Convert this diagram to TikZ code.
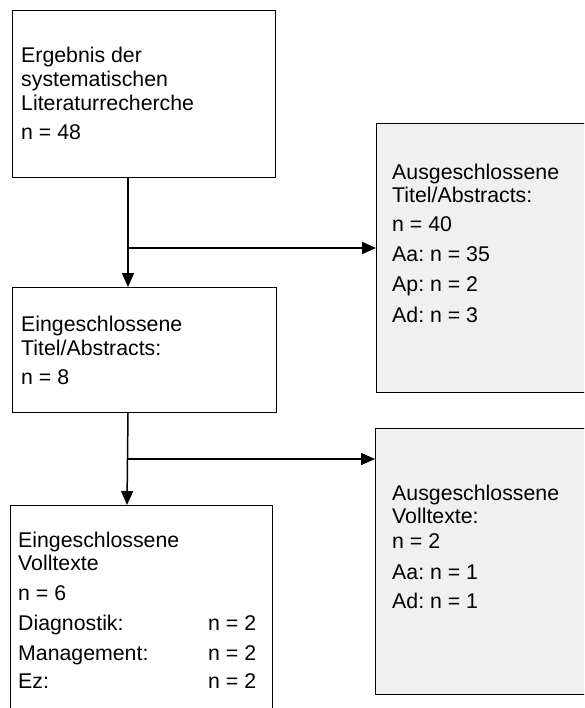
\documentclass[tikz,border=0pt]{standalone}
\usepackage{fontspec}
\setmainfont{Liberation Sans}
\usetikzlibrary{arrows.meta}
\definecolor{boxgray}{HTML}{F0F0F0}
\frenchspacing

\tikzset{
  box/.style={draw=black, line width=1.2pt, rectangle, inner sep=0pt, anchor=north west},
  outbox/.style={box, fill=boxgray},
  txt/.style={anchor=base west, inner sep=0pt, font=\fontsize{21.3}{23}\selectfont},
  link/.style={line width=1.5pt, draw=black},
  arr/.style={link, -{Triangle[length=14pt,width=12pt]}},
}

\begin{document}
\begin{tikzpicture}[x=1pt, y=-1pt]
  \useasboundingbox (0,0) rectangle (584,708);
  \clip (0,0) rectangle (584,708);

  % flow boxes (left column)
  \node[box, minimum width=263pt, minimum height=167pt] (b1) at (12,10) {};
  \node[box, minimum width=264pt, minimum height=125pt] (b2) at (12,287) {};
  \node[box, minimum width=262pt, minimum height=215pt] (b3) at (10,505) {};

  % exclusion boxes (right column)
  \node[outbox, minimum width=224pt, minimum height=269pt] (r1) at (376,123) {};
  \node[outbox, minimum width=225pt, minimum height=266pt] (r2) at (375,428) {};

  % box texts
  \node[txt] (t1) at (21,63) {\begin{tabular}[t]{@{}l@{}}
    Ergebnis der\\[1pt]
    systematischen\\[1pt]
    Literaturrecherche\\[6pt]
    n = 48\end{tabular}};
  \node[txt] (t2) at (21,331) {\begin{tabular}[t]{@{}l@{}}
    Eingeschlossene\\[1pt]
    Titel/Abstracts:\\[6pt]
    n = 8\end{tabular}};
  \node[txt] (t3) at (18,547) {\begin{tabular}[t]{@{}l@{}}
    Eingeschlossene\\
    Volltexte\\[7pt]
    n = 6\\[7pt]
    \makebox[190pt][l]{Diagnostik:}n = 2\\[7pt]
    \makebox[190pt][l]{Management:}n = 2\\[5pt]
    \makebox[190pt][l]{Ez:}n = 2\end{tabular}};
  \node[txt] (t4) at (392,180) {\begin{tabular}[t]{@{}l@{}}
    Ausgeschlossene\\
    Titel/Abstracts:\\[6pt]
    n = 40\\[7pt]
    Aa: n = 35\\[7pt]
    Ap: n = 2\\[8pt]
    Ad: n = 3\end{tabular}};
  \node[txt] (t5) at (392,500) {\begin{tabular}[t]{@{}l@{}}
    Ausgeschlossene\\
    Volltexte:\\[2pt]
    n = 2\\[8pt]
    Aa: n = 1\\[6pt]
    Ad: n = 1\end{tabular}};

  % connectors
  \draw[arr] ([xshift=116pt]b1.south west) -- ([xshift=116pt]b2.north west);
  \coordinate (j1) at (128,248);
  \draw[arr] (j1) -- (j1 -| r1.west);

  \draw[arr] ([xshift=116pt]b2.south west) -- ([xshift=117pt]b3.north west);
  \coordinate (j2) at (127.5,459);
  \draw[arr] (j2) -- (j2 -| r2.west);
\end{tikzpicture}
\end{document}
